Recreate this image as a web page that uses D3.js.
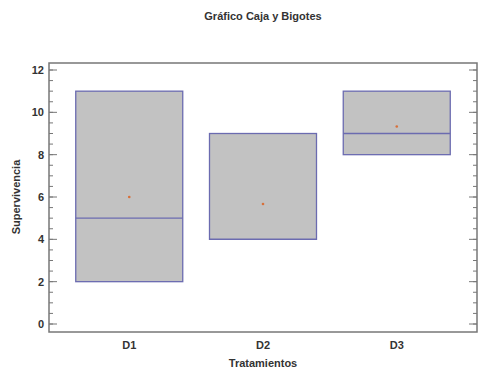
<!DOCTYPE html>
<html>
<head>
<meta charset="utf-8">
<script src="https://cdn.jsdelivr.net/npm/d3@7"></script>
<style>
  body { margin: 0; background: #fff; }
  svg { display: block; font-family: "Liberation Sans", Arial, sans-serif; }
</style>
</head>
<body>
<div id="chart"></div>
<script>
// data: three replicates per treatment
const tratamientos = ["D1", "D2", "D3"];
const valoresD1 = [2, 5, 11];
const valoresD2 = [4, 4, 9];
const valoresD3 = [8, 9, 11];
const yTicks = [0, 2, 4, 6, 8, 10, 12];

const width = 498, height = 376;
const frame = { left: 49, right: 477, top: 63, bottom: 332 };
const font = "bold 11px 'Liberation Sans', Arial, sans-serif";
const textColor = "#333";

// with 3 obs the hinges fall on min and max
const series = [valoresD1, valoresD2, valoresD3].map((v, i) => {
  const s = v.slice().sort(d3.ascending);
  return {
    name: tratamientos[i],
    lo: s[0],
    med: d3.median(s),
    hi: s[s.length - 1],
    mean: d3.mean(s)
  };
});

const x = d3.scaleBand()
  .domain(tratamientos)
  .range([frame.left, frame.right])
  .paddingInner(0.2)
  .paddingOuter(0.2);

const y = d3.scaleLinear()
  .domain([0, 12])
  .range([324, 70]);

const svg = d3.select("#chart").append("svg")
  .attr("width", width)
  .attr("height", height);

// title
svg.append("text")
  .attr("x", 263).attr("y", 20)
  .attr("text-anchor", "middle")
  .style("font", font)
  .attr("fill", textColor)
  .text("Gráfico Caja y Bigotes");

// boxes
const boxes = svg.append("g");
series.forEach(d => {
  boxes.append("rect")
    .attr("x", x(d.name))
    .attr("y", y(d.hi))
    .attr("width", x.bandwidth())
    .attr("height", y(d.lo) - y(d.hi))
    .attr("fill", "#c2c2c2")
    .attr("stroke", "#6b6bb0")
    .attr("stroke-width", 1.3);
  boxes.append("line")
    .attr("x1", x(d.name)).attr("x2", x(d.name) + x.bandwidth())
    .attr("y1", y(d.med)).attr("y2", y(d.med))
    .attr("stroke", "#6b6bb0")
    .attr("stroke-width", 1.3);
  boxes.append("circle")
    .attr("cx", x(d.name) + x.bandwidth() / 2)
    .attr("cy", y(d.mean))
    .attr("r", 1.3)
    .attr("fill", "#d8703a");
});

// frame
svg.append("rect")
  .attr("x", frame.left).attr("y", frame.top)
  .attr("width", frame.right - frame.left)
  .attr("height", frame.bottom - frame.top)
  .attr("fill", "none")
  .attr("stroke", "#777")
  .attr("stroke-width", 1.5);

// inward ticks, left and right
const minor = d3.range(0, 12.01, 0.5);
function ticks(g, side) {
  const dir = side === "left" ? 1 : -1;
  const x0 = side === "left" ? frame.left : frame.right;
  g.selectAll("line.minor")
    .data(minor)
    .join("line")
    .attr("class", "minor")
    .attr("x1", x0).attr("x2", x0 + dir * 4)
    .attr("y1", d => y(d)).attr("y2", d => y(d))
    .attr("stroke", "#777");
  g.selectAll("line.major")
    .data(yTicks)
    .join("line")
    .attr("class", "major")
    .attr("x1", x0).attr("x2", x0 + dir * 8)
    .attr("y1", d => y(d)).attr("y2", d => y(d))
    .attr("stroke", "#777");
}
svg.append("g").call(ticks, "left");
svg.append("g").call(ticks, "right");

// y tick labels
svg.append("g")
  .selectAll("text")
  .data(yTicks)
  .join("text")
  .attr("x", frame.left - 5)
  .attr("y", d => y(d))
  .attr("dy", "0.35em")
  .attr("text-anchor", "end")
  .style("font", font)
  .attr("fill", textColor)
  .text(d => d);

// x labels
svg.append("g")
  .selectAll("text")
  .data(tratamientos)
  .join("text")
  .attr("x", d => x(d) + x.bandwidth() / 2)
  .attr("y", 349)
  .attr("text-anchor", "middle")
  .style("font", font)
  .attr("fill", textColor)
  .text(d => d);

svg.append("text")
  .attr("x", 263).attr("y", 367)
  .attr("text-anchor", "middle")
  .style("font", font)
  .attr("fill", textColor)
  .text("Tratamientos");

svg.append("text")
  .attr("transform", "translate(20,197) rotate(-90)")
  .attr("text-anchor", "middle")
  .style("font", font)
  .attr("fill", textColor)
  .text("Supervivencia");
</script>
</body>
</html>
